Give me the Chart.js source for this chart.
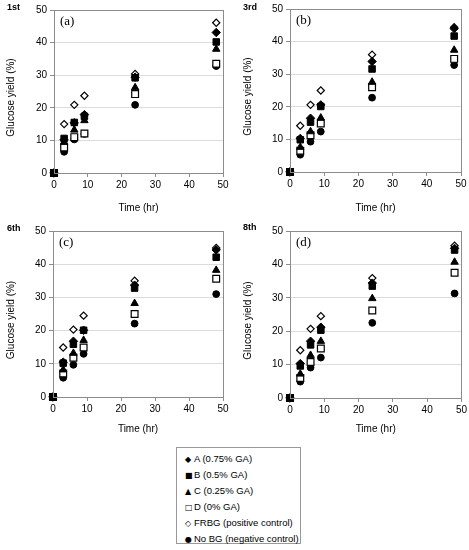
<!DOCTYPE html>
<html>
<head>
<meta charset="utf-8">
<script src="https://cdn.jsdelivr.net/npm/chart.js@4/dist/chart.umd.min.js"></script>
<style>
  body { margin: 0; background: #fff; font-family: "Liberation Sans", Arial, sans-serif; }
  #wrap { position: relative; width: 469px; height: 550px; overflow: hidden; }
  canvas { position: absolute; }
  .run { position: absolute; font-weight: bold; font-size: 9px; color: #000; }
  #legend { position: absolute; left: 176px; top: 447px; width: 125px; height: 97px;
    border: 1px solid #999; box-sizing: border-box; padding: 3px 0 0 8px; font-size: 9.5px; color: #000; }
  #legend div { height: 16px; line-height: 16px; white-space: nowrap; }
  #legend span { display: inline-block; width: 9px; font-size: 8px; font-family: "DejaVu Sans", sans-serif; }
</style>
</head>
<body>
<div id="wrap">
  <canvas id="c1" width="235" height="215" style="left:0;top:0"></canvas>
  <canvas id="c3" width="234" height="215" style="left:235px;top:0"></canvas>
  <canvas id="c6" width="235" height="225" style="left:0;top:215px"></canvas>
  <canvas id="c8" width="234" height="225" style="left:235px;top:215px"></canvas>
  <div class="run" style="left:7px;top:2px">1st</div>
  <div class="run" style="left:243px;top:2px">3rd</div>
  <div class="run" style="left:7px;top:223px">6th</div>
  <div class="run" style="left:243px;top:222px">8th</div>
  <div id="legend"></div>
</div>
<script>
  // hydrolysis time points
  const times = [0, 3, 6, 9, 24, 48];
  const seriesNames = ['A (0.75% GA)', 'B (0.5% GA)', 'C (0.25% GA)', 'D (0% GA)', 'FRBG (positive control)', 'No BG (negative control)'];
  const legendSymbols = ['\u25C6', '\u25A0', '\u25B2', '\u25A1', '\u25C7', '\u25CF'];

  // 1st cycle (a)
  const first_A = [0, 10.2, 15.4, 17.9, 29.4, 43.1];
  const first_B = [0, 10.6, 15.5, 17.4, 29.2, 40.2];
  const first_C = [0, 9.5, 13.2, 16.1, 26.2, 38.0];
  const first_D = [0, 7.8, 11.0, 12.1, 24.2, 33.5];
  const first_FRBG = [0, 15.0, 20.9, 23.7, 30.4, 46.1];
  const first_NoBG = [0, 6.5, 10.3, 12.0, 20.9, 32.8];

  // 3rd cycle (b)
  const third_A = [0, 10.3, 16.5, 20.6, 33.9, 44.0];
  const third_B = [0, 9.9, 15.3, 20.1, 31.6, 41.7];
  const third_C = [0, 7.6, 12.4, 16.6, 27.6, 37.4];
  const third_D = [0, 6.5, 11.3, 14.9, 26.0, 34.7];
  const third_FRBG = [0, 14.2, 20.6, 25.0, 36.0, 44.4];
  const third_NoBG = [0, 5.3, 9.3, 12.4, 22.8, 32.8];

  // 6th cycle (c)
  const sixth_A = [0, 10.5, 16.8, 20.1, 33.7, 44.3];
  const sixth_B = [0, 10.2, 15.9, 20.1, 32.8, 42.1];
  const sixth_C = [0, 8.2, 13.2, 17.1, 28.2, 38.2];
  const sixth_D = [0, 7.1, 11.8, 14.9, 25.0, 35.6];
  const sixth_FRBG = [0, 14.9, 20.3, 24.5, 35.0, 44.9];
  const sixth_NoBG = [0, 5.8, 9.7, 13.0, 22.1, 31.0];

  // 8th cycle (d)
  const eighth_A = [0, 10.3, 17.0, 21.2, 34.4, 44.8];
  const eighth_B = [0, 9.6, 15.9, 20.3, 33.5, 44.3];
  const eighth_C = [0, 7.2, 12.8, 17.0, 29.8, 40.7];
  const eighth_D = [0, 6.0, 10.8, 14.8, 26.2, 37.5];
  const eighth_FRBG = [0, 14.3, 20.7, 24.5, 35.9, 45.6];
  const eighth_NoBG = [0, 4.9, 9.1, 12.1, 22.5, 31.3];

  const xTicks = [0, 10, 20, 30, 40, 50];
  const yTicks = [0, 10, 20, 30, 40, 50];

  const styles = [
    { pointStyle: 'rectRot', pointRadius: 4.2, backgroundColor: '#000', borderColor: '#000', borderWidth: 1 },
    { pointStyle: 'rect', pointRadius: 4.6, backgroundColor: '#000', borderColor: '#000', borderWidth: 1 },
    { pointStyle: 'triangle', pointRadius: 4.3, backgroundColor: '#000', borderColor: '#000', borderWidth: 1 },
    { pointStyle: 'rect', pointRadius: 4.8, backgroundColor: '#fff', borderColor: '#000', borderWidth: 1.2 },
    { pointStyle: 'rectRot', pointRadius: 3.6, backgroundColor: '#fff', borderColor: '#000', borderWidth: 1.2 },
    { pointStyle: 'circle', pointRadius: 3.4, backgroundColor: '#000', borderColor: '#000', borderWidth: 1 }
  ];

  // legend
  const leg = document.getElementById('legend');
  seriesNames.forEach((n, i) => {
    const d = document.createElement('div');
    d.innerHTML = '<span>' + legendSymbols[i] + '</span>' + n;
    leg.appendChild(d);
  });

  // frame, panel letter and y title (sits a bit below the axis middle)
  const framePlugin = {
    id: 'frame',
    afterDraw(chart, args, opts) {
      const { ctx, chartArea: a } = chart;
      ctx.save();
      ctx.strokeStyle = '#8c8c8c';
      ctx.lineWidth = 1;
      ctx.strokeRect(Math.round(a.left) + 0.5, Math.round(a.top) + 0.5, Math.round(a.right - a.left), Math.round(a.bottom - a.top));
      ctx.font = '13px "Liberation Serif", serif';
      ctx.fillStyle = '#000';
      ctx.textBaseline = 'top';
      ctx.fillText(opts.letter, a.left + 6, a.top + 5);
      ctx.translate(opts.titleX, (a.top + a.bottom) / 2 + 6);
      ctx.rotate(-Math.PI / 2);
      ctx.font = '10px "Liberation Sans", sans-serif';
      ctx.textAlign = 'center';
      ctx.textBaseline = 'middle';
      ctx.fillText('Glucose yield (%)', 0, 0);
      ctx.restore();
    }
  };

  function makePanel(id, letter, series, lay) {
    new Chart(document.getElementById(id), {
      type: 'scatter',
      data: {
        datasets: series.map((vals, i) => Object.assign({
          label: seriesNames[i],
          data: times.map((t, k) => ({ x: t, y: vals[k] })),
          showLine: false,
          clip: false
        }, styles[i]))
      },
      options: {
        responsive: false,
        animation: false,
        layout: { padding: { top: lay.top, right: lay.right, left: 0, bottom: 0 } },
        plugins: { legend: { display: false }, tooltip: { enabled: false }, frame: { letter, titleX: lay.tx } },
        scales: {
          x: {
            type: 'linear', min: 0, max: 50,
            afterBuildTicks: s => { s.ticks = xTicks.map(v => ({ value: v })); },
            ticks: { font: { size: 10, family: 'Liberation Sans' }, color: '#000', padding: 2, maxRotation: 0 },
            grid: { drawOnChartArea: false, tickLength: 4, color: '#8c8c8c' },
            border: { color: '#8c8c8c' },
            title: { display: true, text: 'Time (hr)', font: { size: 10, family: 'Liberation Sans' }, color: '#000', padding: { top: 0, bottom: lay.tb } },
            afterFit: s => { s.height = lay.xh; }
          },
          y: {
            min: 0, max: 50,
            afterBuildTicks: s => { s.ticks = yTicks.map(v => ({ value: v })); },
            ticks: { font: { size: 10, family: 'Liberation Sans' }, color: '#000', padding: 3 },
            grid: { color: '#dcdcdc', tickLength: 4, tickColor: '#8c8c8c' },
            border: { color: '#8c8c8c' },
            afterFit: s => { s.width = lay.yw; }
          }
        }
      },
      plugins: [framePlugin]
    });
  }

  makePanel('c1', '(a)', [first_A, first_B, first_C, first_D, first_FRBG, first_NoBG],
    { top: 10, right: 12, yw: 54, xh: 42, tb: 1, tx: 11 });
  makePanel('c3', '(b)', [third_A, third_B, third_C, third_D, third_FRBG, third_NoBG],
    { top: 9, right: 8, yw: 55, xh: 43, tb: 1, tx: 13 });
  makePanel('c6', '(c)', [sixth_A, sixth_B, sixth_C, sixth_D, sixth_FRBG, sixth_NoBG],
    { top: 16, right: 12, yw: 53, xh: 43, tb: 5, tx: 11 });
  makePanel('c8', '(d)', [eighth_A, eighth_B, eighth_C, eighth_D, eighth_FRBG, eighth_NoBG],
    { top: 16, right: 7, yw: 55, xh: 42, tb: 5, tx: 13 });
</script>
</body>
</html>
